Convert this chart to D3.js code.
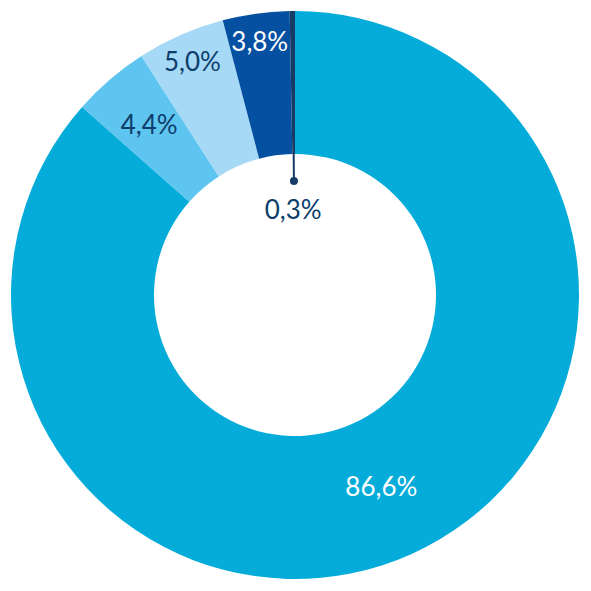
<!DOCTYPE html>
<html><head><meta charset="utf-8">
<script src="https://cdn.jsdelivr.net/npm/d3@7/dist/d3.min.js"></script>
<style>html,body{margin:0;padding:0;background:#fff;}svg{display:block;}</style>
</head><body>
<svg id="c" width="591" height="591"></svg>
<script>
const categories = ["A", "B", "C", "D", "E"];
const values = [86.6, 4.4, 5.0, 3.8, 0.3];
const labels = ["86,6%", "4,4%", "5,0%", "3,8%", "0,3%"];

const colors = ["#05acd9", "#5ec4f0", "#a6d9f6", "#0550a0", "#163c66"];
const textColors = ["#ffffff", "#0d3d6b", "#0d3d6b", "#ffffff", "#0d3d6b"];
const labelRadius = [210, 224, 255, 256, null];

const cx = 295, cy = 295, rOuter = 284, rInner = 141;
const svg = d3.select("#c");
const g = svg.append("g").attr("transform", `translate(${cx},${cy})`);

const pie = d3.pie().sort(null).value(d => d.v);
const data = categories.map((c, i) => ({c, v: values[i], i}));
const arcs = pie(data);
const arc = d3.arc().innerRadius(rInner).outerRadius(rOuter);

g.selectAll("path").data(arcs).join("path")
  .attr("d", arc)
  .attr("fill", d => colors[d.data.i]);

const fontFam = "Lato, 'Open Sans', sans-serif";
const fs = 26;
arcs.forEach((a, i) => {
  const mid = (a.startAngle + a.endAngle) / 2;
  if (labelRadius[i] != null) {
    const r = labelRadius[i];
    g.append("text")
      .attr("x", r * Math.sin(mid))
      .attr("y", -r * Math.cos(mid))
      .attr("dy", "0.35em")
      .attr("text-anchor", "middle")
      .attr("font-family", fontFam)
      .attr("font-size", fs)
      .attr("fill", textColors[i])
      .text(labels[i]);
  } else {
    const r1 = rInner, r2 = 114;
    g.append("line")
      .attr("x1", r1 * Math.sin(mid)).attr("y1", -r1 * Math.cos(mid))
      .attr("x2", r2 * Math.sin(mid)).attr("y2", -r2 * Math.cos(mid))
      .attr("stroke", colors[i]).attr("stroke-width", 2);
    g.append("circle")
      .attr("cx", r2 * Math.sin(mid)).attr("cy", -r2 * Math.cos(mid))
      .attr("r", 4).attr("fill", colors[i]);
    const rt = 85;
    g.append("text")
      .attr("x", rt * Math.sin(mid) - 1)
      .attr("y", -rt * Math.cos(mid))
      .attr("dy", "0.35em")
      .attr("text-anchor", "middle")
      .attr("font-family", fontFam)
      .attr("font-size", fs)
      .attr("fill", textColors[i])
      .text(labels[i]);
  }
});
</script>
</body></html>
